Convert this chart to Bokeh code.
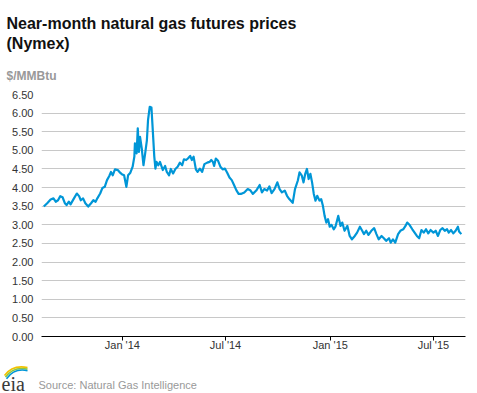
import pandas as pd
from bokeh.plotting import figure
from bokeh.layouts import column
from bokeh.models import (FixedTicker, DatetimeTickFormatter, PrintfTickFormatter, Range1d)
from bokeh.core.properties import value
from bokeh.embed import file_html
from bokeh.resources import INLINE

# ---------------- data ----------------
dates = [
    "2013-08-16", "2013-08-22", "2013-08-28", "2013-09-02", "2013-09-06", "2013-09-10",
    "2013-09-14", "2013-09-18", "2013-09-22", "2013-09-25", "2013-09-29", "2013-10-02",
    "2013-10-08", "2013-10-13", "2013-10-17", "2013-10-20", "2013-10-24", "2013-10-28",
    "2013-11-02", "2013-11-07", "2013-11-11", "2013-11-15", "2013-11-18", "2013-11-23",
    "2013-11-27", "2013-12-01", "2013-12-05", "2013-12-09", "2013-12-12", "2013-12-15",
    "2013-12-19", "2013-12-24", "2013-12-28", "2013-12-31", "2014-01-04", "2014-01-08",
    "2014-01-11", "2014-01-15", "2014-01-19", "2014-01-22", "2014-01-23", "2014-01-26",
    "2014-01-28", "2014-01-30", "2014-02-01", "2014-02-04", "2014-02-07", "2014-02-10",
    "2014-02-13", "2014-02-15", "2014-02-18", "2014-02-21", "2014-02-23", "2014-02-26",
    "2014-02-28", "2014-03-02", "2014-03-05", "2014-03-08", "2014-03-13", "2014-03-17",
    "2014-03-20", "2014-03-24", "2014-03-27", "2014-03-31", "2014-04-04", "2014-04-08",
    "2014-04-12", "2014-04-16", "2014-04-19", "2014-04-23", "2014-04-26", "2014-04-30",
    "2014-05-03", "2014-05-06", "2014-05-10", "2014-05-13", "2014-05-17", "2014-05-21",
    "2014-05-25", "2014-05-30", "2014-06-03", "2014-06-06", "2014-06-09", "2014-06-11",
    "2014-06-14", "2014-06-18", "2014-06-22", "2014-06-26", "2014-06-30", "2014-07-04",
    "2014-07-08", "2014-07-12", "2014-07-16", "2014-07-20", "2014-07-24", "2014-07-28",
    "2014-08-03", "2014-08-09", "2014-08-14", "2014-08-18", "2014-08-24", "2014-08-30",
    "2014-09-03", "2014-09-07", "2014-09-12", "2014-09-16", "2014-09-20", "2014-09-25",
    "2014-09-30", "2014-10-04", "2014-10-08", "2014-10-13", "2014-10-17", "2014-10-21",
    "2014-10-27", "2014-10-31", "2014-11-05", "2014-11-08", "2014-11-12", "2014-11-15",
    "2014-11-18", "2014-11-21", "2014-11-24", "2014-11-27", "2014-11-30", "2014-12-03",
    "2014-12-06", "2014-12-09", "2014-12-13", "2014-12-16", "2014-12-19", "2014-12-22",
    "2014-12-25", "2014-12-28", "2014-12-31", "2015-01-03", "2015-01-07", "2015-01-10",
    "2015-01-15", "2015-01-19", "2015-01-22", "2015-01-26", "2015-01-31", "2015-02-04",
    "2015-02-08", "2015-02-13", "2015-02-17", "2015-02-22", "2015-02-26", "2015-03-01",
    "2015-03-05", "2015-03-09", "2015-03-14", "2015-03-19", "2015-03-23", "2015-03-27",
    "2015-04-01", "2015-04-05", "2015-04-09", "2015-04-14", "2015-04-17", "2015-04-21",
    "2015-04-25", "2015-04-30", "2015-05-04", "2015-05-09", "2015-05-13", "2015-05-16",
    "2015-05-20", "2015-05-25", "2015-05-29", "2015-06-02", "2015-06-06", "2015-06-10",
    "2015-06-14", "2015-06-18", "2015-06-22", "2015-06-26", "2015-07-01", "2015-07-05",
    "2015-07-09", "2015-07-13", "2015-07-17", "2015-07-21", "2015-07-25", "2015-07-28",
    "2015-08-01", "2015-08-05", "2015-08-09", "2015-08-13", "2015-08-15", "2015-08-19",
]

prices = [
    3.49, 3.58, 3.68, 3.71, 3.62, 3.66,
    3.77, 3.74, 3.58, 3.53, 3.62, 3.55,
    3.71, 3.84, 3.77, 3.66, 3.71, 3.58,
    3.49, 3.58, 3.66, 3.62, 3.71, 3.84,
    3.99, 4.02, 4.20, 4.31, 4.42, 4.33,
    4.49, 4.47, 4.40, 4.36, 4.33, 4.02,
    4.33, 4.40, 4.56, 4.83, 5.19, 4.92,
    5.59, 4.96, 5.36, 5.05, 4.60, 4.92,
    5.27, 5.81, 6.17, 6.15, 5.63, 4.83,
    4.51, 4.69, 4.60, 4.69, 4.47, 4.58,
    4.42, 4.33, 4.50, 4.38, 4.50, 4.56,
    4.67, 4.60, 4.76, 4.74, 4.78, 4.85,
    4.74, 4.83, 4.49, 4.42, 4.51, 4.42,
    4.63, 4.67, 4.69, 4.74, 4.69, 4.58,
    4.78, 4.72, 4.56, 4.49, 4.51, 4.40,
    4.27, 4.20, 4.07, 3.93, 3.83, 3.83,
    3.87, 3.96, 3.92, 3.83, 3.92, 4.07,
    3.87, 3.96, 3.92, 4.03, 3.85, 3.96,
    4.14, 3.96, 3.87, 3.92, 3.78, 3.69,
    3.59, 3.96, 4.19, 4.41, 4.32, 4.14,
    4.37, 4.50, 4.23, 4.37, 4.14, 3.83,
    3.65, 3.78, 3.65, 3.69, 3.51, 3.24,
    3.06, 3.15, 2.95, 3.00, 2.88, 2.95,
    3.24, 2.97, 3.06, 2.84, 2.97, 2.70,
    2.61, 2.70, 2.79, 2.95, 2.84, 2.75,
    2.84, 2.73, 2.84, 2.91, 2.75, 2.61,
    2.70, 2.64, 2.57, 2.64, 2.52, 2.61,
    2.52, 2.75, 2.84, 2.88, 2.97, 3.06,
    3.00, 2.88, 2.79, 2.70, 2.64, 2.86,
    2.79, 2.88, 2.77, 2.86, 2.79, 2.84,
    2.70, 2.86, 2.91, 2.84, 2.88, 2.79,
    2.86, 2.77, 2.84, 2.95, 2.82, 2.75,
]

x_tick_dates = ["2014-01-01", "2014-07-01", "2015-01-01", "2015-07-01"]
y_ticks = [0.0, 0.5, 1.0, 1.5, 2.0, 2.5, 3.0, 3.5, 4.0, 4.5, 5.0, 5.5, 6.0, 6.5]
x_start, x_end = "2013-08-12", "2015-08-26 08:00"

title_lines = ["Near-month natural gas futures prices", "(Nymex)"]
unit_text = "$/MMBtu"
source_text = "Source: Natural Gas Intelligence"
logo_text = "eia"
logo_colors = ["#f2c200", "#8cc63f", "#0096d7"]

FONT = "Liberation Sans"
W = 477
HEAD_H = 86
MAIN_H = 275
FOOT_H = 393 - HEAD_H - MAIN_H


def blank(height):
    f = figure(width=W, height=height, output_backend="svg", toolbar_location=None,
               x_range=Range1d(0, W), y_range=Range1d(0, height),
               x_axis_location=None, y_axis_location=None,
               min_border_left=0, min_border_right=0, min_border_top=0, min_border_bottom=0)
    f.frame_align = False
    f.grid.visible = False
    f.outline_line_color = None
    f.background_fill_color = "white"
    f.border_fill_color = "white"
    return f


# ---------------- header ----------------
head = blank(HEAD_H)
head.text(x=[6, 6], y=[HEAD_H - 22.7, HEAD_H - 42.7], text=title_lines,
          text_font=value(FONT), text_font_size=value("16px"), text_font_style="bold",
          text_color="#111111", text_baseline="alphabetic", text_align="left")
head.text(x=[6], y=[HEAD_H - 75], text=[unit_text],
          text_font=value(FONT), text_font_size=value("12px"), text_font_style="bold",
          text_color="#999999", text_baseline="alphabetic", text_align="left")

# ---------------- main chart ----------------
x = pd.to_datetime(dates)
p = figure(width=W, height=MAIN_H, x_axis_type="datetime",
           output_backend="svg", toolbar_location=None,
           x_range=Range1d(pd.Timestamp(x_start), pd.Timestamp(x_end)),
           y_range=Range1d(0, 6.5),
           min_border_left=41, min_border_right=12,
           min_border_top=8, min_border_bottom=25)
p.frame_align = False
p.outline_line_color = None
p.background_fill_color = "white"
p.border_fill_color = "white"

p.line(x, prices, line_color="#0096d7", line_width=2.2, line_join="round")

p.yaxis.ticker = FixedTicker(ticks=y_ticks)
p.yaxis.formatter = PrintfTickFormatter(format="%.2f")
p.yaxis.axis_line_color = None
p.yaxis.major_tick_line_color = None
p.yaxis.minor_tick_line_color = None
p.yaxis.major_tick_out = 0
p.yaxis.major_tick_in = 0
p.yaxis.major_label_standoff = 8
p.yaxis.major_label_text_font = FONT
p.yaxis.major_label_text_font_size = "11px"
p.yaxis.major_label_text_color = "#333333"

x_ticks_ms = [pd.Timestamp(d).value // 10**6 for d in x_tick_dates]
p.xaxis.ticker = FixedTicker(ticks=x_ticks_ms)
fmt = "%b '%y"
p.xaxis.formatter = DatetimeTickFormatter(years=fmt, months=fmt, days=fmt, hours=fmt,
                                          hourmin=fmt, minutes=fmt, minsec=fmt,
                                          seconds=fmt, milliseconds=fmt, microseconds=fmt)
p.xaxis.axis_line_color = "black"
p.xaxis.axis_line_width = 1
p.xaxis.major_tick_line_color = "black"
p.xaxis.major_tick_out = 4
p.xaxis.major_tick_in = 0
p.xaxis.minor_tick_line_color = None
p.xaxis.major_label_standoff = -2
p.xaxis.major_label_text_font = FONT
p.xaxis.major_label_text_font_size = "11px"
p.xaxis.major_label_text_color = "#333333"

p.xgrid.visible = False
p.ygrid.ticker = FixedTicker(ticks=y_ticks)
p.ygrid.grid_line_color = "#c8c8c8"
p.ygrid.grid_line_width = 1

# ---------------- footer ----------------
foot = blank(FOOT_H)
foot.text(x=[38], y=[8.2], text=[source_text],
          text_font=value(FONT), text_font_size=value("11px"),
          text_color="#999999", text_baseline="alphabetic", text_align="left")
foot.text(x=[1], y=[10], text=[logo_text],
          text_font=value("Liberation Serif"), text_font_size=value("20px"),
          text_color="#3a3a3a", text_baseline="alphabetic", text_align="left")
for i, c in enumerate(logo_colors):
    foot.quadratic(x0=[4 + i], y0=[18 - 1.6 * i], cx=[12 + i], cy=[29 - 1.6 * i],
                   x1=[27], y1=[26 - 1.6 * i], line_color=c, line_width=1.6)

layout = column(head, p, foot, spacing=0)
open("out.html", "w").write(file_html(layout, INLINE))
